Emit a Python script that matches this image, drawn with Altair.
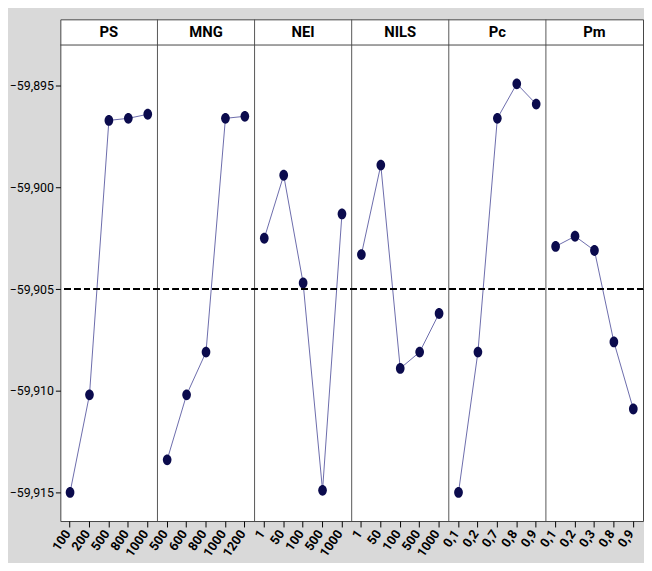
import altair as alt
import pandas as pd

factors = ["PS", "MNG", "NEI", "NILS", "Pc", "Pm"]

ps_levels = ["100", "200", "500", "800", "1000"]
mng_levels = ["500", "600", "800", "1000", "1200"]
nei_levels = ["1", "50", "100", "500", "1000"]
nils_levels = ["1", "50", "100", "500", "1000"]
pc_levels = ["0,1", "0,2", "0,7", "0,8", "0,9"]
pm_levels = ["0,1", "0,2", "0,3", "0,8", "0,9"]

ps_means = [-59.9150, -59.9102, -59.8967, -59.8966, -59.8964]
mng_means = [-59.9134, -59.9102, -59.9081, -59.8966, -59.8965]
nei_means = [-59.9025, -59.8994, -59.9047, -59.9149, -59.9013]
nils_means = [-59.9033, -59.8989, -59.9089, -59.9081, -59.9062]
pc_means = [-59.9150, -59.9081, -59.8966, -59.8949, -59.8959]
pm_means = [-59.9029, -59.9024, -59.9031, -59.9076, -59.9109]

grand_mean = -59.905
y_ticks = [-59.915, -59.910, -59.905, -59.900, -59.895]
y_min, y_max = -59.91641, -59.89173  # top includes the header strip

all_levels = [ps_levels, mng_levels, nei_levels, nils_levels, pc_levels, pm_levels]
all_means = [ps_means, mng_means, nei_means, nils_means, pc_means, pm_means]

rows = []
for f, lv, mv in zip(factors, all_levels, all_means):
    for i, (l, m) in enumerate(zip(lv, mv)):
        rows.append({"factor": f, "level": l, "key": f + "|" + l, "value": m, "idx": i})
df = pd.DataFrame(rows)
key_order = list(df["key"])
first_keys = pd.DataFrame({"key": [df[df.factor == f]["key"].iloc[0] for f in factors[1:]]})
mid_keys = pd.DataFrame({"factor": factors,
                         "key": [df[df.factor == f]["key"].iloc[2] for f in factors]})

FONT = "Roboto"
ellipse = "M 0 -1 A 0.8 1 0 1 1 0 1 A 0.8 1 0 1 1 0 -1 Z"
HEADER_PX = 26

x_scale = alt.Scale(domain=key_order, paddingInner=0, paddingOuter=0)
x_enc = alt.X(
    "key:N", title=None, scale=x_scale,
    axis=alt.Axis(labelAngle=-55, labelFontSize=13, labelFontWeight="bold",
                  labelFont=FONT, labelColor="black", tickColor="black",
                  labelExpr="split(datum.value, '|')[1]", labelOffset=-2,
                  tickSize=6, domain=False, grid=False, labelPadding=4),
)
y_enc = alt.Y(
    "value:Q", title=None,
    scale=alt.Scale(domain=[y_min, y_max], nice=False, zero=False),
    axis=alt.Axis(values=y_ticks, labelExpr="replace(format(datum.value, '.3f'), '.', ',')",
                  labelFontSize=12.5, labelFont=FONT, labelColor="black",
                  tickColor="black", tickSize=5, domain=False, grid=False, labelPadding=2),
)

line = alt.Chart(df).mark_line(color="#6b6bab", strokeWidth=1).encode(
    x=x_enc, y=y_enc, detail="factor:N", order=alt.Order("idx:Q"))
pts = alt.Chart(df).mark_point(shape=ellipse, filled=True, size=120, color="#0b0b4d",
                               opacity=1).encode(x=x_enc, y=y_enc)
rule = alt.Chart(df).mark_rule(color="black", strokeDash=[6, 4], strokeWidth=1.6).encode(
    y=alt.datum(grand_mean))
dividers = alt.Chart(first_keys).mark_rule(color="#555555", strokeWidth=1).encode(
    x=alt.X("key:N", bandPosition=0, scale=x_scale))
hdr_line = alt.Chart(pd.DataFrame({"h": [0]})).mark_rule(color="#444444", strokeWidth=1).encode(
    y=alt.value(HEADER_PX))
hdr_text = alt.Chart(mid_keys).mark_text(fontSize=15, fontWeight="bold", font=FONT,
                                         color="black").encode(
    x=alt.X("key:N", scale=x_scale), y=alt.value(HEADER_PX / 2), text="factor:N")

chart = alt.layer(dividers, hdr_line, hdr_text, line, pts, rule).properties(
    width=644, height=555,
    autosize=alt.AutoSizeParams(type="fit", contains="padding"),
    padding={"left": 1, "top": 7, "right": 0, "bottom": 0},
    background="#d9d9d9",
).configure_view(fill="white", stroke="#444444", strokeWidth=1)

chart.save("out.html", embed_options={"renderer": "svg", "actions": False})
